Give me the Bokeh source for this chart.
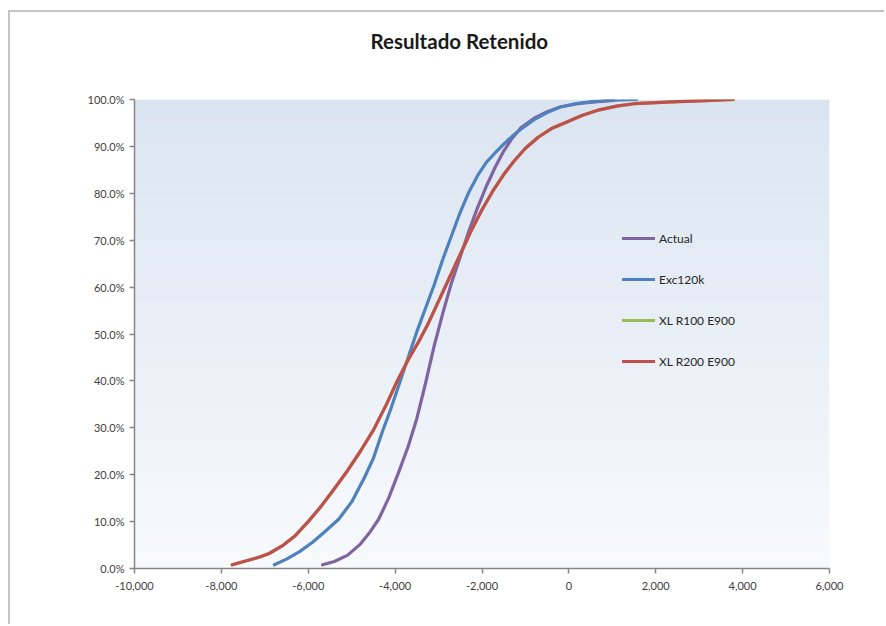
import numpy as np
from bokeh.plotting import figure
from bokeh.models import Range1d, FixedTicker, NumeralTickFormatter, Legend, LegendItem, Title
from bokeh.embed import file_html
from bokeh.resources import INLINE

# Cumulative distribution of retained result, per scenario
actual_x = [-5670, -5400, -5100, -4800, -4600, -4380, -4150, -3920, -3700, -3500, -3300, -3100,
            -2900, -2700, -2500, -2300, -2100, -1900, -1700, -1500, -1300, -1100, -800, -500,
            -200, 200, 600, 1030]
actual_y = [0.8, 1.5, 2.8, 5.2, 7.5, 10.5, 15.0, 20.5, 26.0, 32.0, 39.5, 47.5,
            54.5, 61.0, 66.5, 72.0, 77.0, 81.5, 85.5, 89.0, 91.8, 94.0, 96.0, 97.4,
            98.4, 99.1, 99.5, 99.8]

exc_x = [-6780, -6500, -6200, -5900, -5600, -5300, -5000, -4700, -4500, -4300, -4100, -3900,
         -3700, -3500, -3300, -3100, -2900, -2700, -2500, -2300, -2100, -1900, -1700, -1500,
         -1300, -1100, -800, -500, -200, 200, 600, 1000, 1560]
exc_y = [0.8, 2.0, 3.6, 5.6, 8.0, 10.5, 14.2, 19.5, 23.5, 29.0, 34.0, 39.5,
         45.0, 50.5, 55.5, 60.5, 66.0, 71.0, 76.0, 80.3, 83.8, 86.6, 88.6, 90.5,
         92.2, 93.7, 95.7, 97.2, 98.4, 99.2, 99.6, 99.85, 100.0]

r100_x = [-7750, -7400, -7100, -6900, -6600, -6300, -6000, -5700, -5400, -5100, -4800, -4500,
          -4200, -3950, -3700, -3450, -3250, -3000, -2750, -2500, -2250, -2000, -1750, -1500,
          -1250, -1000, -700, -400, -100, 300, 700, 1100, 1500, 2000, 2500, 3000, 3400, 3790]
r100_y = [0.8, 1.7, 2.5, 3.2, 4.8, 7.0, 10.0, 13.3, 17.0, 20.8, 25.0, 29.5,
          35.0, 40.0, 44.5, 48.5, 52.0, 57.0, 62.0, 67.0, 72.0, 76.5, 80.5, 84.0,
          87.0, 89.6, 92.0, 93.8, 95.0, 96.6, 97.8, 98.6, 99.1, 99.35, 99.55, 99.7, 99.85, 100.0]

r200_x = [-7750, -7400, -7100, -6900, -6600, -6300, -6000, -5700, -5400, -5100, -4800, -4500,
          -4200, -3950, -3700, -3450, -3250, -3000, -2750, -2500, -2250, -2000, -1750, -1500,
          -1250, -1000, -700, -400, -100, 300, 700, 1100, 1500, 2000, 2500, 3000, 3400, 3790]
r200_y = [0.8, 1.7, 2.5, 3.2, 4.8, 7.0, 10.0, 13.3, 17.0, 20.8, 25.0, 29.5,
          35.0, 40.0, 44.5, 48.5, 52.0, 57.0, 62.0, 67.0, 72.0, 76.5, 80.5, 84.0,
          87.0, 89.6, 92.0, 93.8, 95.0, 96.6, 97.8, 98.6, 99.1, 99.35, 99.55, 99.7, 99.85, 100.0]

series_names = ["Actual", "Exc120k", "XL R100 E900", "XL R200 E900"]
series_colors = ["#8064A2", "#4F81BD", "#9BBB59", "#C0504D"]

x_ticks = [-10000, -8000, -6000, -4000, -2000, 0, 2000, 4000, 6000]
y_ticks = [0.0, 0.1, 0.2, 0.3, 0.4, 0.5, 0.6, 0.7, 0.8, 0.9, 1.0]

X_START, X_END = -10000, 6000
Y_START, Y_END = 0.0, 1.0

FONT = "Lato"
TEXT_COLOR = "#404040"
AXIS_COLOR = "#868686"

p = figure(
    width=876, height=614,
    output_backend="svg", toolbar_location=None,
    x_range=Range1d(X_START, X_END), y_range=Range1d(Y_START, Y_END),
    min_border_left=124, min_border_right=57, min_border_top=87, min_border_bottom=58,
    title="Resultado Retenido",
)
p.styles = {
    "margin-left": "8px", "margin-top": "10px",
    "border-left": "2px solid #c4c4c4", "border-top": "2px solid #c4c4c4",
}
p.outline_line_color = None
p.background_fill_color = "white"
p.border_fill_color = "white"
p.grid.visible = False

# blank panel that keeps the title well clear of the plot area
p.add_layout(Title(text=" ", text_font_size="10px", standoff=34), "above")

p.title.align = "left"
p.title.offset = 236
p.title.standoff = 0
p.title.text_font = FONT
p.title.text_font_size = "20.5px"
p.title.text_font_style = "bold"
p.title.text_color = "#1a1a1a"

# soft vertical gradient behind the plot area
n = 256
top = np.array([219, 229, 241], dtype=float)
bottom = np.array([248, 250, 253], dtype=float)
img = np.empty((n, 1), dtype=np.uint32)
view = img.view(dtype=np.uint8).reshape((n, 1, 4))
t = np.linspace(0, 1, n)[:, None]
cols = bottom + (top - bottom) * t
view[:, 0, 0] = cols[:, 0]
view[:, 0, 1] = cols[:, 1]
view[:, 0, 2] = cols[:, 2]
view[:, 0, 3] = 255
p.image_rgba(image=[img], x=X_START, y=Y_START, dw=X_END - X_START, dh=Y_END - Y_START)

xs = [actual_x, exc_x, r100_x, r200_x]
ys = [actual_y, exc_y, r100_y, r200_y]
renderers = []
for sx, sy, c in zip(xs, ys, series_colors):
    frac = [v / 100.0 for v in sy]
    r = p.line(sx, frac, line_color=c, line_width=3.2, line_cap="round", line_join="round")
    renderers.append(r)

legend = Legend(
    items=[LegendItem(label=nm, renderers=[r]) for nm, r in zip(series_names, renderers)],
    location=(488, 199),
    background_fill_alpha=0, border_line_color=None,
    padding=0, margin=0, spacing=25,
    glyph_width=33, glyph_height=16, label_standoff=4,
    label_text_font=FONT, label_text_font_size="12px", label_text_color="#262626",
)
p.add_layout(legend)

for ax in (p.xaxis[0], p.yaxis[0]):
    ax.axis_line_color = AXIS_COLOR
    ax.axis_line_width = 1.5
    ax.major_tick_line_color = AXIS_COLOR
    ax.major_tick_line_width = 1.5
    ax.major_tick_out = 5
    ax.major_tick_in = 0
    ax.minor_tick_line_color = None
    ax.major_label_text_font = FONT
    ax.major_label_text_font_size = "11px"
    ax.major_label_text_color = TEXT_COLOR

p.xaxis.ticker = FixedTicker(ticks=x_ticks)
p.xaxis.formatter = NumeralTickFormatter(format="0,0")
p.xaxis.major_label_standoff = 8
p.yaxis.ticker = FixedTicker(ticks=y_ticks)
p.yaxis.formatter = NumeralTickFormatter(format="0.0%")
p.yaxis.major_label_standoff = 5

open("out.html", "w").write(file_html(p, INLINE))
